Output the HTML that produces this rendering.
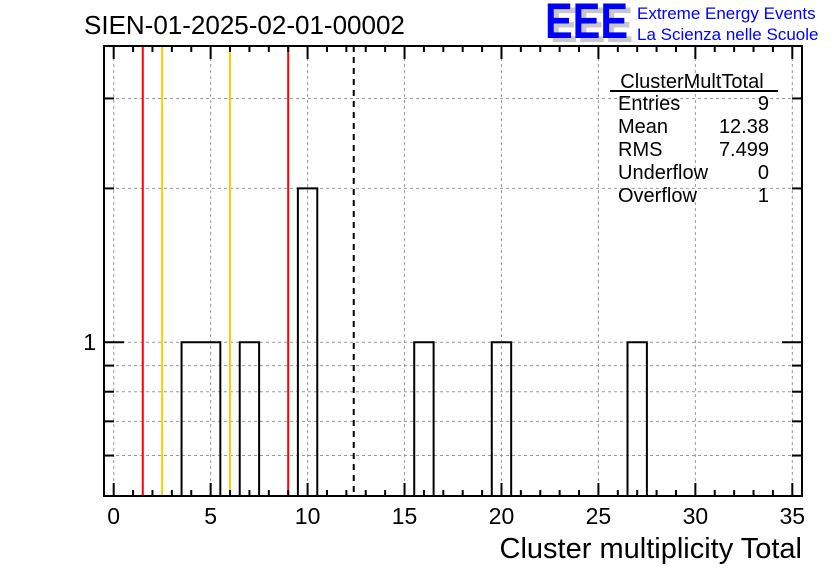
<!DOCTYPE html>
<html><head><meta charset="utf-8"><style>
html,body{margin:0;padding:0;background:#fff;}
svg{display:block;font-family:"Liberation Sans",sans-serif;}
</style></head><body>
<svg id="c" width="836" height="572" viewBox="0 0 836 572" xmlns="http://www.w3.org/2000/svg">
<rect x="0" y="0" width="836" height="572" fill="#fff"/>
<text x="84" y="34" font-size="26">SIEN-01-2025-02-01-00002</text>
<g>
<text x="550" y="42" font-size="50" font-weight="bold" fill="#c8c8c8" textLength="83" lengthAdjust="spacingAndGlyphs">EEE</text>
<text x="545" y="38" font-size="50" font-weight="bold" fill="#0000ff" textLength="83" lengthAdjust="spacingAndGlyphs">EEE</text>
<text x="637" y="19" font-size="17" fill="#0000ff">Extreme Energy Events</text>
<text x="637" y="40" font-size="17" fill="#0000ff">La Scienza nelle Scuole</text>
</g>
<g id="grid"></g>
<g id="marks"></g>
<g id="axes"></g>
<g>
<text x="692" y="88" font-size="20" text-anchor="middle">ClusterMultTotal</text>
<line x1="610" y1="91" x2="778" y2="91" stroke="#000" stroke-width="2"/>
<text x="618" y="110" font-size="20">Entries</text>
<text x="769" y="110" font-size="20" text-anchor="end">9</text>
<text x="618" y="133" font-size="20">Mean</text>
<text x="769" y="133" font-size="20" text-anchor="end">12.38</text>
<text x="618" y="156" font-size="20">RMS</text>
<text x="769" y="156" font-size="20" text-anchor="end">7.499</text>
<text x="618" y="179" font-size="20">Underflow</text>
<text x="769" y="179" font-size="20" text-anchor="end">0</text>
<text x="618" y="202" font-size="20">Overflow</text>
<text x="769" y="202" font-size="20" text-anchor="end">1</text>
</g>
<text x="802" y="558" font-size="29" text-anchor="end">Cluster multiplicity Total</text>
</svg>
<script>
const binCenters = [4, 5, 7, 10, 16, 20, 27];
const binCounts = [1, 1, 1, 2, 1, 1, 1];
const xTickLabels = [0, 5, 10, 15, 20, 25, 30, 35];
const yMinorTicks = [0.6, 0.7, 0.8, 0.9, 2, 3];
const yMajorTicks = [1];
const redLines = [1.5, 9];
const orangeLines = [2.5, 6];
const meanValue = 12.38;

const L=104, R=802, T=46, B=496;
const xMin=-0.5, xMax=35.5, yMin=0.5, yMax=3.8;
const NS="http://www.w3.org/2000/svg";
function X(v){return L+(v-xMin)/(xMax-xMin)*(R-L);}
function Y(v){return v<=0?B:B-(Math.log10(v)-Math.log10(yMin))/(Math.log10(yMax)-Math.log10(yMin))*(B-T);}
function mk(parent,tag,attrs){const e=document.createElementNS(NS,tag);for(const k in attrs)e.setAttribute(k,attrs[k]);parent.appendChild(e);return e;}
const grid=document.getElementById('grid'), marks=document.getElementById('marks'), axes=document.getElementById('axes');

xTickLabels.forEach(v=>{const g=mk(grid,'line',{x1:X(v),x2:X(v),y1:T,y2:B,stroke:'#999','stroke-dasharray':'3,3','stroke-width':1});

});
yMinorTicks.concat(yMajorTicks).forEach(v=>{const g=mk(grid,'line',{x1:L,x2:R,y1:Y(v),y2:Y(v),stroke:'#999','stroke-dasharray':'3,3','stroke-width':1});

});

const nb=Math.round(xMax-xMin);
const counts=new Array(nb).fill(0);
binCenters.forEach((c,i)=>{counts[Math.round(c-xMin-0.5)]+=binCounts[i];});
let d=`M${X(xMin)},${B}`;
for(let i=0;i<nb;i++){const lo=xMin+i, hi=lo+1, y=Y(counts[i]);d+=` L${X(lo)},${y} L${X(hi)},${y}`;}
d+=` L${X(xMax)},${B}`;
const hp=mk(marks,'path',{d:d,fill:'none',stroke:'#000','stroke-width':2});



redLines.forEach(v=>{const l=mk(marks,'line',{x1:X(v),x2:X(v),y1:T,y2:B,stroke:'#ff0000','stroke-width':2});

});
orangeLines.forEach(v=>{const l=mk(marks,'line',{x1:X(v),x2:X(v),y1:T,y2:B,stroke:'#ffcc00','stroke-width':2});

});
const ml=mk(marks,'line',{x1:X(meanValue),x2:X(meanValue),y1:T,y2:B,stroke:'#000','stroke-width':2,'stroke-dasharray':'6,5'});



const fr=mk(axes,'rect',{x:L,y:T,width:R-L,height:B-T,fill:'none',stroke:'#000','stroke-width':2});



for(let v=0; v<=35; v++){const major=v%5===0,len=major?13:6;
const t1=mk(axes,'line',{x1:X(v),x2:X(v),y1:B,y2:B-len,stroke:'#000','stroke-width':2});


const t2=mk(axes,'line',{x1:X(v),x2:X(v),y1:T,y2:T+len,stroke:'#000','stroke-width':2});

}
xTickLabels.forEach(v=>{const t=mk(axes,'text',{x:X(v),y:524,'font-size':23,'text-anchor':'middle'});t.textContent=v;

});

yMinorTicks.forEach(v=>{const a=mk(axes,'line',{x1:L,x2:L+10,y1:Y(v),y2:Y(v),stroke:'#000','stroke-width':2});


const b=mk(axes,'line',{x1:R,x2:R-10,y1:Y(v),y2:Y(v),stroke:'#000','stroke-width':2});

});
yMajorTicks.forEach(v=>{const a=mk(axes,'line',{x1:L,x2:L+20,y1:Y(v),y2:Y(v),stroke:'#000','stroke-width':2});


const b=mk(axes,'line',{x1:R,x2:R-20,y1:Y(v),y2:Y(v),stroke:'#000','stroke-width':2});


const t=mk(axes,'text',{x:96,y:Y(v)+8,'font-size':23,'text-anchor':'end'});t.textContent=v;

});
</script>
</body></html>
